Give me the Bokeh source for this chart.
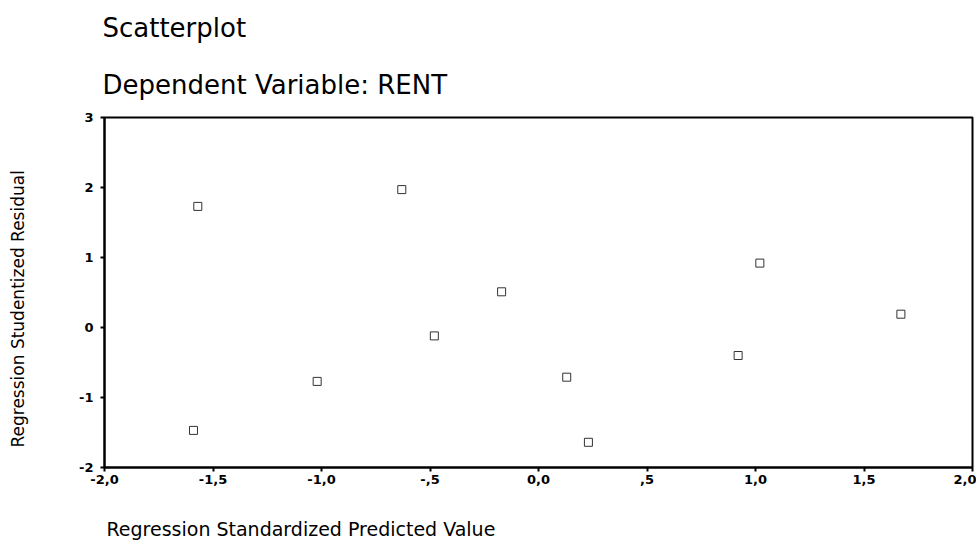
from bokeh.plotting import figure
from bokeh.models import Range1d, FixedTicker, Title
from bokeh.embed import file_html
from bokeh.resources import INLINE

# ---- data ----
pred_x = [-1.59, -1.57, -1.02, -0.63, -0.48, -0.17, 0.13, 0.23, 0.92, 1.02, 1.67]
resid_y = [-1.47, 1.73, -0.77, 1.97, -0.12, 0.51, -0.71, -1.64, -0.40, 0.92, 0.19]

x_ticks = [-2.0, -1.5, -1.0, -0.5, 0.0, 0.5, 1.0, 1.5, 2.0]
x_tick_labels = ["-2,0", "-1,5", "-1,0", "-,5", "0,0", ",5", "1,0", "1,5", "2,0"]
y_ticks = [-2, -1, 0, 1, 2, 3]
y_tick_labels = ["-2", "-1", "0", "1", "2", "3"]

title_main = "Scatterplot"
title_sub = "Dependent Variable: RENT"
x_label = "Regression Standardized Predicted Value"
y_label = "Regression Studentized Residual"

FONT = "DejaVu Sans"

p = figure(width=976, height=545, output_backend="svg", toolbar_location=None,
           x_range=Range1d(-2, 2), y_range=Range1d(-2, 3),
           min_border_left=104, min_border_right=4, min_border_top=117,
           min_border_bottom=78)
p.background_fill_color = "white"
p.border_fill_color = "white"
p.outline_line_color = "black"
p.outline_line_width = 2
p.grid.visible = False

# titles: p.title is the outermost, the added one sits next to the frame
p.title.text = title_main
p.title.text_font = FONT
p.title.text_font_size = "26px"
p.title.text_font_style = "normal"
p.title.text_color = "black"
p.title.align = "left"
p.title.offset = -2
p.title.standoff = 16
p.add_layout(Title(text=title_sub, text_font=FONT, text_font_size="26px",
                   text_font_style="normal", text_color="black", align="left",
                   offset=-2, standoff=35), "above")

# axes
for ax in (p.xaxis[0], p.yaxis[0]):
    ax.axis_line_width = 2
    ax.axis_line_color = "black"
    ax.major_tick_line_width = 2
    ax.major_tick_line_color = "black"
    ax.major_tick_in = 0
    ax.major_tick_out = 4
    ax.minor_tick_line_color = None
    ax.major_label_text_font = FONT
    ax.major_label_text_font_style = "bold"
    ax.major_label_text_font_size = "13px"
    ax.major_label_text_color = "black"

p.xaxis.ticker = FixedTicker(ticks=x_ticks)
p.xaxis.major_label_overrides = {t: l for t, l in zip(x_ticks, x_tick_labels)}
p.xaxis.major_label_standoff = 3
p.yaxis.ticker = FixedTicker(ticks=y_ticks)
p.yaxis.major_label_overrides = {t: l for t, l in zip(y_ticks, y_tick_labels)}
p.yaxis.major_label_standoff = 7

# blank spacers push the axis titles to the outer edges
def spacer(gap):
    return Title(text=" ", text_font=FONT, text_font_size="1px",
                 text_color="white", standoff=gap)

p.add_layout(spacer(24), "below")
p.add_layout(Title(text=x_label, text_font=FONT, text_font_size="19px",
                   text_font_style="normal", text_color="black", align="left",
                   offset=2, standoff=4), "below")
p.add_layout(spacer(42), "left")
p.add_layout(Title(text=y_label, text_font=FONT, text_font_size="17px",
                   text_font_style="normal", text_color="black", align="left",
                   offset=20, standoff=8), "left")

p.scatter(pred_x, resid_y, marker="square", size=8, fill_color=None,
          line_color="#333333", line_width=1)

open("out.html", "w").write(file_html(p, INLINE))
